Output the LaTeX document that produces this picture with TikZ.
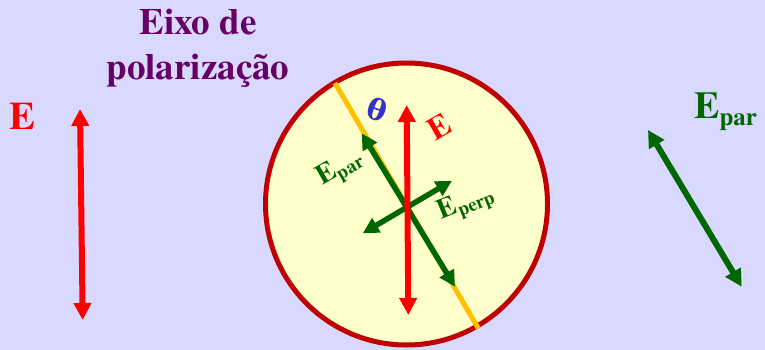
\documentclass[tikz,border=0pt]{standalone}
\usepackage{fontspec}
\setmainfont{texgyretermes}[Extension=.otf, UprightFont=*-regular,
  BoldFont=*-bold, ItalicFont=*-italic, BoldItalicFont=*-bolditalic]
\newfontfamily\thetafont{DejaVu Serif}
\usetikzlibrary{arrows.meta}

\definecolor{bglav}{RGB}{217,217,255}
\definecolor{lensfill}{RGB}{255,255,204}
\definecolor{lensrim}{RGB}{192,0,0}
\definecolor{axisorange}{RGB}{255,192,0}
\definecolor{fieldgreen}{RGB}{0,102,0}
\definecolor{fieldred}{RGB}{255,0,0}
\definecolor{titlepurple}{RGB}{102,0,102}
\definecolor{angleblue}{RGB}{51,51,204}

% E with a lowered index
\newcommand{\Eidx}[2]{E\raisebox{-.17em}{\fontsize{#2}{#2}\selectfont #1}}

\begin{document}
\begin{tikzpicture}[
  x=1pt, y=-1pt,
  font=\bfseries,
  vec/.style={line width=6pt,
              {Triangle[length=17pt,width=17pt]}-{Triangle[length=17pt,width=17pt]}},
  comp/.style={line width=5.5pt,
              {Triangle[length=16pt,width=16pt]}-{Triangle[length=16pt,width=16pt]}},
  ttl/.style={text=titlepurple, font=\fontsize{37}{45}\selectfont\bfseries, anchor=base},
  lbl/.style={inner sep=0pt}
]
% background
\fill[bglav] (0,0) rectangle (765,350);

% title
\node[ttl] (ttla) at (198,35) {Eixo de};
\node[ttl] (ttlb) at (198,80) {polarização};

% left field
\node[lbl, text=fieldred, font=\fontsize{39}{39}\selectfont\bfseries, anchor=base] (eleft) at (22.5,129) {E};
\coordinate (lt) at (80,109);
\coordinate (lb) at (82.7,320);
\draw[vec, fieldred] (lb) -- (lt);

% polarizer
\coordinate (c) at (406.5,204);
\draw[line width=5pt, draw=lensrim, fill=lensfill] (c) circle[radius=141];
\coordinate (oa) at (335,83);
\coordinate (ob) at (478.3,328.3);
\draw[axisorange, line width=5pt] (oa) -- (ob);

% components inside
\coordinate (pt) at (361.7,133.3);
\coordinate (pb) at (455,286.7);
\coordinate (qa) at (362.7,233.3);
\coordinate (qb) at (452,180.7);
\draw[comp, fieldgreen] (pt) -- (pb);
\draw[comp, fieldgreen] (qa) -- (qb);
\coordinate (it) at (406.7,105);
\coordinate (ib) at (408.3,315);
\draw[vec, fieldred] (ib) -- (it);

\node[lbl, text=angleblue, font=\fontsize{29}{29}\selectfont\thetafont\bfseries, rotate=-20] (th) at (377,110) {θ};
\node[lbl, text=fieldred, font=\fontsize{32}{32}\selectfont\bfseries, rotate=30] (einn) at (439,127) {E};
\node[lbl, text=fieldgreen, font=\fontsize{28}{28}\selectfont\bfseries, rotate=30] (epar) at (340,169) {\Eidx{par}{19}};
\node[lbl, text=fieldgreen, font=\fontsize{28}{28}\selectfont\bfseries, rotate=22] (eperp) at (466,204) {\Eidx{perp}{19}};

% right field
\node[lbl, text=fieldgreen, font=\fontsize{38}{38}\selectfont\bfseries, anchor=base west] (eright) at (694,119) {\Eidx{par}{25}};
\coordinate (rt) at (648,130);
\coordinate (rb) at (741.7,286.7);
\draw[vec, fieldgreen] (rt) -- (rb);
\end{tikzpicture}
\end{document}
